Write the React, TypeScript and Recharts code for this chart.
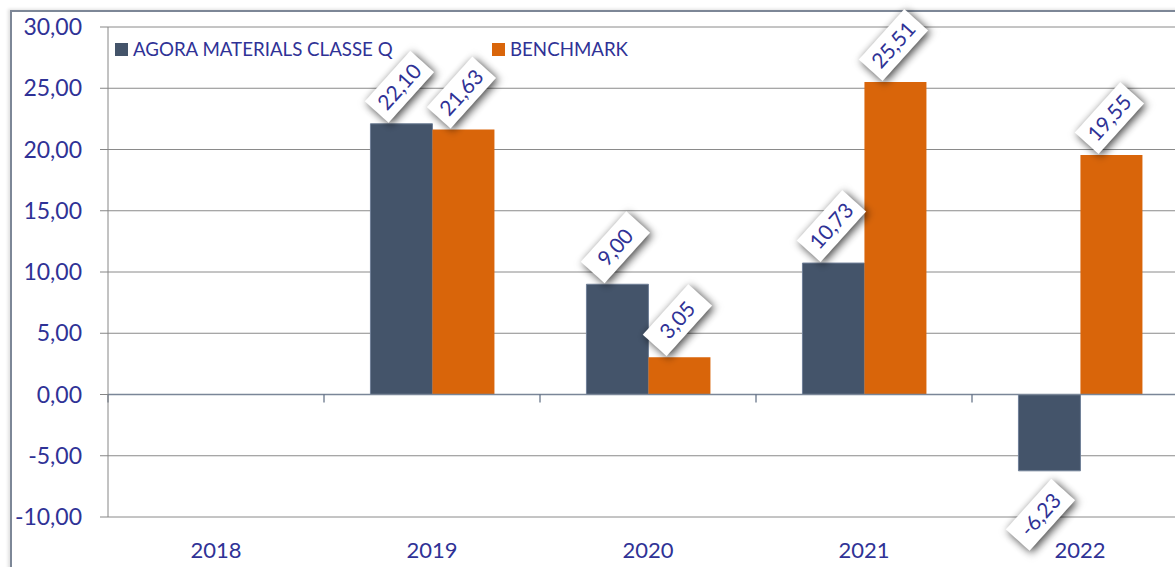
import { BarChart, Bar, XAxis, YAxis, CartesianGrid, ReferenceLine, LabelList } from 'recharts';

const years = ['2018', '2019', '2020', '2021', '2022'];
const fundReturns = [null, 22.1, 9.0, 10.73, -6.23];
const benchmarkReturns = [null, 21.63, 3.05, 25.51, 19.55];
const yTicks = [-10, -5, 0, 5, 10, 15, 20, 25, 30];

const FONT = 'Lato, "Open Sans", sans-serif';
const TEXT = '#2f3296';
const FUND = '#44546a';
const BENCH = '#d9650a';

const data = years.map((year, i) => ({
  year,
  fund: fundReturns[i],
  bench: benchmarkReturns[i],
}));

const fmt = (v: number) => v.toFixed(2).replace('.', ',');

const BoxLabel = (props: any) => {
  const { x, y, width, height, value } = props;
  if (value === null || value === undefined) return null;
  const cx = Number(x) + Number(width) / 2;
  const top = Math.min(Number(y), Number(y) + Number(height));
  const bottom = Math.max(Number(y), Number(y) + Number(height));
  const neg = Number(value) < 0;
  const lx = neg ? cx - 9 : cx - 2;
  const ly = neg ? bottom + 44 : top - 37;
  return (
    <g transform={`translate(${lx}, ${ly}) rotate(-48)`}>
      <rect
        x={-34}
        y={-16}
        width={68}
        height={32}
        fill="#ffffff"
        style={{ filter: 'drop-shadow(0px 3px 4px rgba(0,0,0,0.75))' }}
      />
      <text x={0} y={0} dy="0.35em" textAnchor="middle" fill={TEXT} fontSize={21} fontFamily={FONT}>
        {fmt(Number(value))}
      </text>
    </g>
  );
};

// zero line with the small ticks hanging under it at each year group edge
const ZeroAxis = (props: any) => {
  const { x1, x2, y1 } = props;
  const step = (x2 - x1) / years.length;
  return (
    <g>
      <line x1={x1} x2={x2} y1={y1} y2={y1} stroke="#7a8698" strokeWidth={1.5} />
      {years.map((yr, i) => (
        <line key={yr} x1={x1 + i * step} x2={x1 + i * step} y1={y1} y2={y1 + 8} stroke="#5c6b80" strokeWidth={1.2} />
      ))}
    </g>
  );
};

const legendItems = [
  { label: 'AGORA MATERIALS CLASSE Q', color: FUND, width: 377 },
  { label: 'BENCHMARK', color: BENCH, width: 200 },
];

export default function App() {
  return (
    <div
      style={{
        position: 'fixed',
        left: 0,
        top: 0,
        width: 1175,
        height: 567,
        overflow: 'hidden',
        background: '#ffffff',
      }}
    >
      <div
        style={{
          position: 'absolute',
          left: 10,
          top: 10,
          width: 1300,
          height: 700,
          borderLeft: '2px solid #7d8797',
          borderTop: '2px solid #7d8797',
          boxShadow: '-2px -1px 3px rgba(0,0,0,0.12)',
        }}
      />
      <div
        style={{
          position: 'absolute',
          left: 115,
          top: 38,
          display: 'flex',
          fontFamily: FONT,
          fontSize: 18.7,
          color: TEXT,
          lineHeight: '22px',
        }}
      >
        {legendItems.map((it) => (
          <div key={it.label} style={{ display: 'flex', alignItems: 'center', width: it.width }}>
            <span style={{ display: 'inline-block', width: 13, height: 13, background: it.color, marginRight: 5 }} />
            <span>{it.label}</span>
          </div>
        ))}
      </div>
      <div style={{ position: 'absolute', left: 0, top: 0 }}>
        <BarChart
          width={1200}
          height={567}
          data={data}
          margin={{ top: 27, right: 12, bottom: 20, left: 8 }}
          barCategoryGap="21.5%"
          barGap={0}
        >
          <CartesianGrid vertical={false} stroke="#8a8a8a" strokeWidth={1} />
          <XAxis
            dataKey="year"
            axisLine={false}
            tickLine={false}
            tickSize={0}
            tickMargin={25}
            height={30}
            tick={{ fill: TEXT, fontSize: 22, fontFamily: FONT }}
          />
          <YAxis
            domain={[-10, 30]}
            ticks={yTicks}
            tickFormatter={fmt}
            width={100}
            tickSize={8}
            tickMargin={18}
            axisLine={{ stroke: '#868686' }}
            tickLine={{ stroke: '#868686' }}
            tick={{ fill: TEXT, fontSize: 23, fontFamily: FONT }}
          />
          <ReferenceLine y={0} shape={<ZeroAxis />} />
          <Bar dataKey="fund" name="AGORA MATERIALS CLASSE Q" fill={FUND} stroke="#6f7f97" strokeWidth={1} isAnimationActive={false}>
            <LabelList dataKey="fund" content={<BoxLabel />} />
          </Bar>
          <Bar dataKey="bench" name="BENCHMARK" fill={BENCH} isAnimationActive={false}>
            <LabelList dataKey="bench" content={<BoxLabel />} />
          </Bar>
        </BarChart>
      </div>
    </div>
  );
}
